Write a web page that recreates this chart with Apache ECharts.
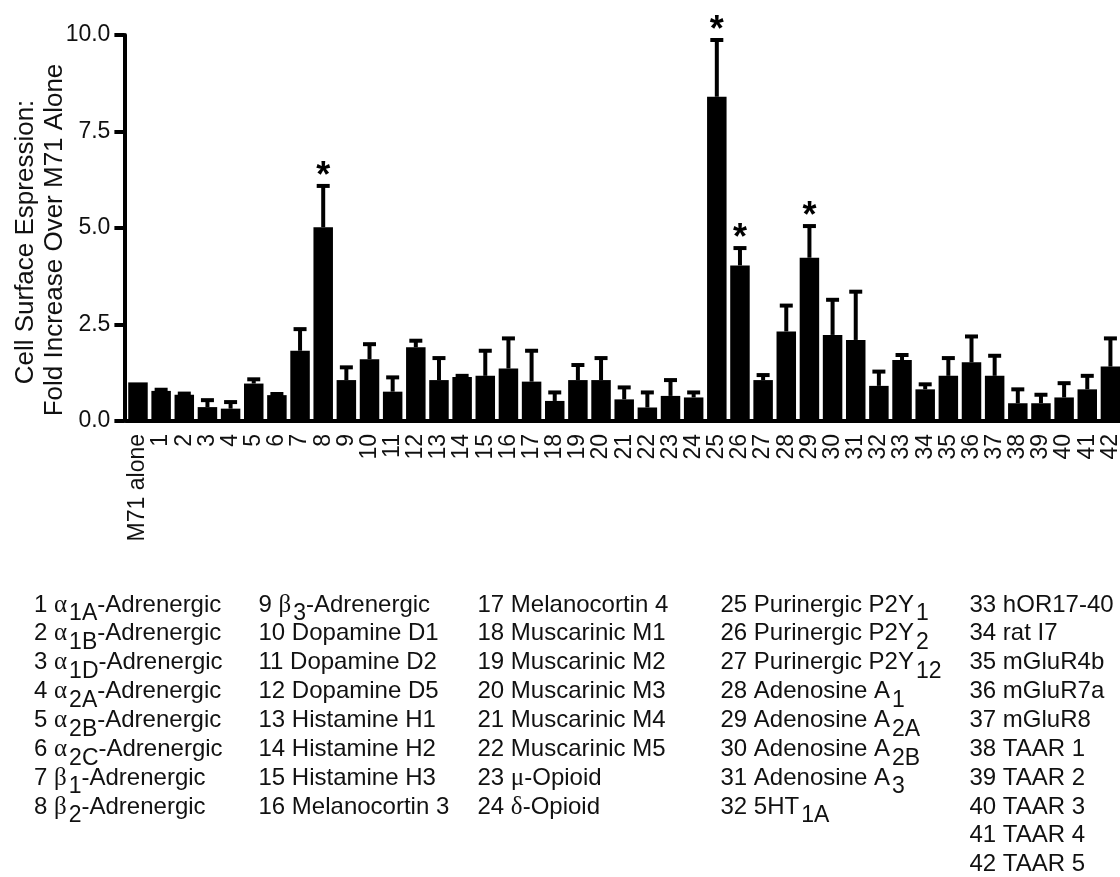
<!DOCTYPE html>
<html>
<head>
<meta charset="utf-8">
<script src="https://cdn.jsdelivr.net/npm/echarts@6/dist/echarts.min.js"></script>
<style>
html,body{margin:0;padding:0;background:#fff;overflow:hidden;}
#c{width:1122px;height:877px;}
</style>
</head>
<body>
<div id="c"></div>
<script>
const categories = ['M71 alone','1','2','3','4','5','6','7','8','9','10','11','12','13','14','15','16','17','18','19','20','21','22','23','24','25','26','27','28','29','30','31','32','33','34','35','36','37','38','39','40','41','42'];
const values = [1.00,0.78,0.68,0.36,0.32,0.97,0.67,1.82,5.02,1.06,1.60,0.76,1.91,1.06,1.14,1.17,1.36,1.02,0.52,1.06,1.06,0.56,0.35,0.65,0.61,8.40,4.03,1.06,2.32,4.23,2.23,2.10,0.91,1.58,0.82,1.17,1.52,1.17,0.46,0.46,0.61,0.82,1.41];
const errors = [0,0.03,0.03,0.18,0.17,0.11,0.03,0.56,1.07,0.33,0.39,0.37,0.17,0.57,0.03,0.65,0.78,0.80,0.22,0.39,0.57,0.31,0.39,0.41,0.13,1.47,0.45,0.13,0.67,0.82,0.91,1.25,0.37,0.13,0.13,0.46,0.67,0.52,0.36,0.22,0.37,0.35,0.73];
const starred = ['8','25','26','29'];
const yTitleLines = ['Cell Surface Espression:', 'Fold Increase Over M71 Alone'];

const legendCol1 = ['1 α[1A]-Adrenergic','2 α[1B]-Adrenergic','3 α[1D]-Adrenergic','4 α[2A]-Adrenergic','5 α[2B]-Adrenergic','6 α[2C]-Adrenergic','7 β[1]-Adrenergic','8 β[2]-Adrenergic'];
const legendCol2 = ['9 β[3]-Adrenergic','10 Dopamine D1','11 Dopamine D2','12 Dopamine D5','13 Histamine H1','14 Histamine H2','15 Histamine H3','16 Melanocortin 3'];
const legendCol3 = ['17 Melanocortin 4','18 Muscarinic M1','19 Muscarinic M2','20 Muscarinic M3','21 Muscarinic M4','22 Muscarinic M5','23 μ-Opioid','24 δ-Opioid'];
const legendCol4 = ['25 Purinergic P2Y[1]','26 Purinergic P2Y[2]','27 Purinergic P2Y[12]','28 Adenosine A[1]','29 Adenosine A[2A]','30 Adenosine A[2B]','31 Adenosine A[3]','32 5HT[1A]'];
const legendCol5 = ['33 hOR17-40','34 rat I7','35 mGluR4b','36 mGluR7a','37 mGluR8','38 TAAR 1','39 TAAR 2','40 TAAR 3','41 TAAR 4','42 TAAR 5'];

const FONT = 'Liberation Sans';
const TXT = '#111';

function toRich(s){
  return s.replace(/([αβμδ])/g, '{g|$1}').replace(/\[([^\]]+)\]/g, '{s|$1}');
}

const graphics = [];
// y-axis title
graphics.push({type:'text', x:26, y:242, rotation:Math.PI/2, silent:true,
  style:{text:yTitleLines[0], fontFamily:FONT, fontSize:26, fill:TXT, align:'center', verticalAlign:'middle'}});
graphics.push({type:'text', x:55, y:240, rotation:Math.PI/2, silent:true,
  style:{text:yTitleLines[1], fontFamily:FONT, fontSize:26, fill:TXT, align:'center', verticalAlign:'middle'}});

const cols = [[legendCol1,34],[legendCol2,258.5],[legendCol3,477.5],[legendCol4,720.5],[legendCol5,969.5]];
const lineTop = 605, lineStep = 28.85;
cols.forEach(function(c){
  c[0].forEach(function(item, k){
    graphics.push({type:'text', x:c[1], y:lineTop + k*lineStep, silent:true,
      style:{text:toRich(item), fontFamily:FONT, fontSize:24, fill:TXT, align:'left', verticalAlign:'middle',
        rich:{
          g:{fontFamily:'Liberation Serif', fontSize:25, fill:TXT},
          s:{fontFamily:FONT, fontSize:23, fill:TXT, padding:[18,0,0,2]}
        }}});
  });
});

const errData = categories.map(function(c,i){ return [i, values[i], errors[i]]; });
const starData = starred.map(function(c){ const i = categories.indexOf(c); return [i, values[i] + errors[i]]; });

const chart = echarts.init(document.getElementById('c'), null, {renderer:'canvas'});
chart.setOption({
  animation:false,
  backgroundColor:'#fff',
  grid:{left:126.4, right:0, top:35, bottom:456, containLabel:false},
  xAxis:{
    type:'category', data:categories,
    axisLine:{lineStyle:{color:'#000', width:4}},
    axisTick:{alignWithLabel:true, interval:0, length:9, lineStyle:{color:'#000', width:4}},
    axisLabel:{interval:0, rotate:90, margin:13, fontFamily:FONT, fontSize:23, color:TXT}
  },
  yAxis:{
    type:'value', min:0, max:10, interval:2.5, offset:2,
    splitLine:{show:false},
    axisLine:{show:true, lineStyle:{color:'#000', width:4}},
    axisTick:{show:true, length:10, lineStyle:{color:'#000', width:4}},
    axisLabel:{margin:14, fontFamily:FONT, fontSize:23, color:TXT, formatter:function(v){return v.toFixed(1);}}
  },
  series:[
    {type:'bar', data:values, barWidth:19.5, itemStyle:{color:'#000'}, z:2},
    {type:'custom', data:errData, z:3,
      renderItem:function(params, api){
        const i = api.value(0), v = api.value(1), e = api.value(2);
        if (!(e > 0)) return null;
        const p0 = api.coord([i, v]);
        const p1 = api.coord([i, v + e]);
        return {type:'group', children:[
          {type:'line', shape:{x1:p0[0], y1:p0[1], x2:p1[0], y2:p1[1]}, style:{stroke:'#000', lineWidth:4}},
          {type:'line', shape:{x1:p1[0]-6.5, y1:p1[1], x2:p1[0]+6.5, y2:p1[1]}, style:{stroke:'#000', lineWidth:4}}
        ]};
      }},
    {type:'custom', data:starData, z:4,
      renderItem:function(params, api){
        const p = api.coord([api.value(0), api.value(1)]);
        return {type:'text', x:p[0], y:p[1]-9, style:{text:'*', fontFamily:FONT, fontWeight:'bold', fontSize:36, fill:'#000', align:'center', verticalAlign:'middle'}};
      }}
  ],
  graphic:graphics
});
</script>
</body>
</html>
